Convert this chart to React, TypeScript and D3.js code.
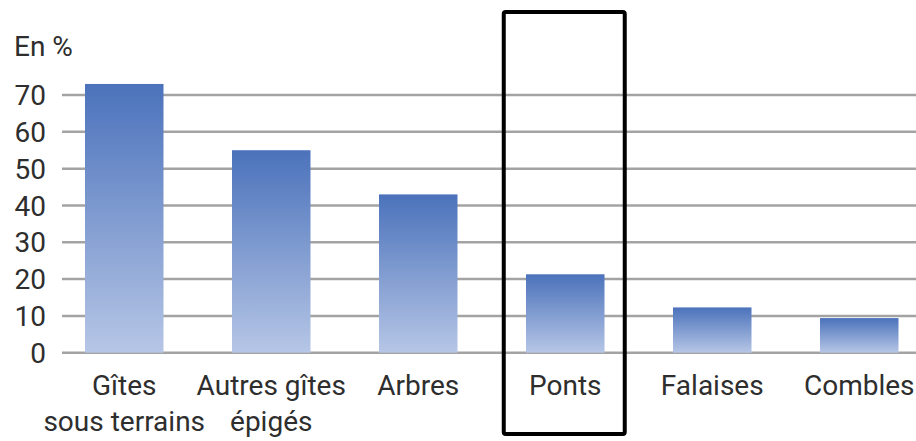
import React from "react";
import * as d3 from "d3";

const categories: string[][] = [
  ["Gîtes", "sous terrains"],
  ["Autres gîtes", "épigés"],
  ["Arbres"],
  ["Ponts"],
  ["Falaises"],
  ["Combles"],
];
const values: number[] = [73, 55, 43, 21.3, 12.3, 9.4];
const yTicks: number[] = [0, 10, 20, 30, 40, 50, 60, 70];
const unitLabel = "En %";
const highlighted = 3;

const W = 916;
const H = 441;

export default function App() {
  const keys = categories.map((c) => c.join(" "));
  const x = d3
    .scaleBand<string>()
    .domain(keys)
    .range([55.6, 927.9])
    .paddingInner(0.466)
    .paddingOuter(0.2);
  const y = d3.scaleLinear().domain([0, 70]).range([352.7, 95]);
  const bw = x.bandwidth();
  const font = "Roboto, 'Noto Sans', sans-serif";
  const textColor = "#2e2e2e";
  const hx = (x(keys[highlighted]) as number) + bw / 2;

  return (
    <svg
      width={W}
      height={H}
      style={{ position: "absolute", left: 0, top: 0, display: "block" }}
      fontFamily={font}
    >
      <defs>
        <linearGradient id="barGrad" x1="0" y1="0" x2="0" y2="1">
          <stop offset="0%" stopColor="#4b72bb" />
          <stop offset="100%" stopColor="#b6c6e6" />
        </linearGradient>
      </defs>
      <rect x={0} y={0} width={W} height={H} fill="#ffffff" />
      {yTicks.map((t) => (
        <g key={t}>
          <line
            x1={62}
            x2={W}
            y1={y(t)}
            y2={y(t)}
            stroke="#a3a3a3"
            strokeWidth={2.5}
          />
          <text
            x={46}
            y={y(t)}
            dy="0.36em"
            textAnchor="end"
            fontSize={28}
            fill={textColor}
          >
            {t}
          </text>
        </g>
      ))}
      <text x={14} y={56} fontSize={28} fill={textColor}>
        {unitLabel}
      </text>
      {values.map((v, i) => (
        <rect
          key={keys[i]}
          x={x(keys[i])}
          y={y(v)}
          width={bw}
          height={y(0) - y(v)}
          fill="url(#barGrad)"
        />
      ))}
      {categories.map((lines, i) => (
        <text
          key={keys[i]}
          x={(x(keys[i]) as number) + bw / 2}
          y={395}
          textAnchor="middle"
          fontSize={28}
          fill={textColor}
        >
          {lines.map((l, j) => (
            <tspan
              key={j}
              x={(x(keys[i]) as number) + bw / 2}
              dy={j === 0 ? 0 : 36}
            >
              {l}
            </tspan>
          ))}
        </text>
      ))}
      <rect
        x={hx - 61.5}
        y={12}
        width={121}
        height={422}
        rx={2}
        fill="none"
        stroke="#000000"
        strokeWidth={4}
      />
    </svg>
  );
}
